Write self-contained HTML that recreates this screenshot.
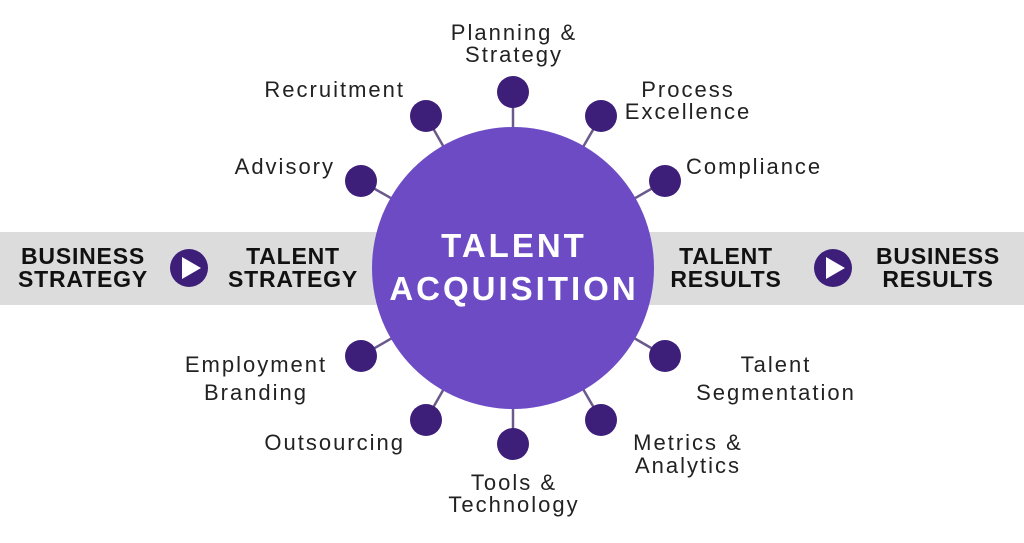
<!DOCTYPE html>
<html><head><style>
body{margin:0;background:#fff;}
svg text{font-family:"Liberation Sans",sans-serif;}
</style></head><body>
<svg width="1024" height="538" viewBox="0 0 1024 538" xmlns="http://www.w3.org/2000/svg">
<rect x="0" y="232" width="1024" height="73" fill="#dcdcdd"/>
<g stroke="#6a5a8c" stroke-width="2.5">
<line x1="513" y1="268" x2="513" y2="92"/>
<line x1="513" y1="268" x2="426" y2="116"/>
<line x1="513" y1="268" x2="601" y2="116"/>
<line x1="513" y1="268" x2="361" y2="181"/>
<line x1="513" y1="268" x2="665" y2="181"/>
<line x1="513" y1="268" x2="361" y2="356"/>
<line x1="513" y1="268" x2="665" y2="356"/>
<line x1="513" y1="268" x2="426" y2="420"/>
<line x1="513" y1="268" x2="601" y2="420"/>
<line x1="513" y1="268" x2="513" y2="444"/>
</g>
<circle cx="513" cy="268" r="141" fill="#6c4bc5"/>
<g fill="#3d1f79">
<circle cx="513" cy="92" r="16"/>
<circle cx="426" cy="116" r="16"/>
<circle cx="601" cy="116" r="16"/>
<circle cx="361" cy="181" r="16"/>
<circle cx="665" cy="181" r="16"/>
<circle cx="361" cy="356" r="16"/>
<circle cx="665" cy="356" r="16"/>
<circle cx="426" cy="420" r="16"/>
<circle cx="601" cy="420" r="16"/>
<circle cx="513" cy="444" r="16"/>
<circle cx="189" cy="268" r="19"/>
<circle cx="833" cy="268" r="19"/>
</g>
<polygon points="182,257 182,279 201,268" fill="#fff"/>
<polygon points="826,257 826,279 845,268" fill="#fff"/>
<g fill="#fff" font-weight="bold" text-anchor="middle" font-size="33" letter-spacing="3">
<text x="514" y="257">TALENT</text>
<text x="514" y="300">ACQUISITION</text>
</g>
<g fill="#111" font-weight="bold" text-anchor="middle" font-size="23" letter-spacing="0.8">
<text x="83" y="264">BUSINESS</text><text x="83" y="287">STRATEGY</text>
<text x="293" y="264">TALENT</text><text x="293" y="287">STRATEGY</text>
<text x="726" y="264">TALENT</text><text x="726" y="287">RESULTS</text>
<text x="938" y="264">BUSINESS</text><text x="938" y="287">RESULTS</text>
</g>
<g fill="#222" font-size="22" letter-spacing="2">
<text x="514" y="40" text-anchor="middle">Planning &amp;</text>
<text x="514" y="62" text-anchor="middle">Strategy</text>
<text x="405" y="97" text-anchor="end">Recruitment</text>
<text x="688" y="97" text-anchor="middle">Process</text>
<text x="688" y="119" text-anchor="middle">Excellence</text>
<text x="335" y="174" text-anchor="end">Advisory</text>
<text x="686" y="174">Compliance</text>
<text x="256" y="372" text-anchor="middle">Employment</text>
<text x="256" y="400" text-anchor="middle">Branding</text>
<text x="776" y="372" text-anchor="middle">Talent</text>
<text x="776" y="400" text-anchor="middle">Segmentation</text>
<text x="405" y="450" text-anchor="end">Outsourcing</text>
<text x="688" y="450" text-anchor="middle">Metrics &amp;</text>
<text x="688" y="473" text-anchor="middle">Analytics</text>
<text x="514" y="490" text-anchor="middle">Tools &amp;</text>
<text x="514" y="512" text-anchor="middle">Technology</text>
</g>
</svg>
</body></html>
